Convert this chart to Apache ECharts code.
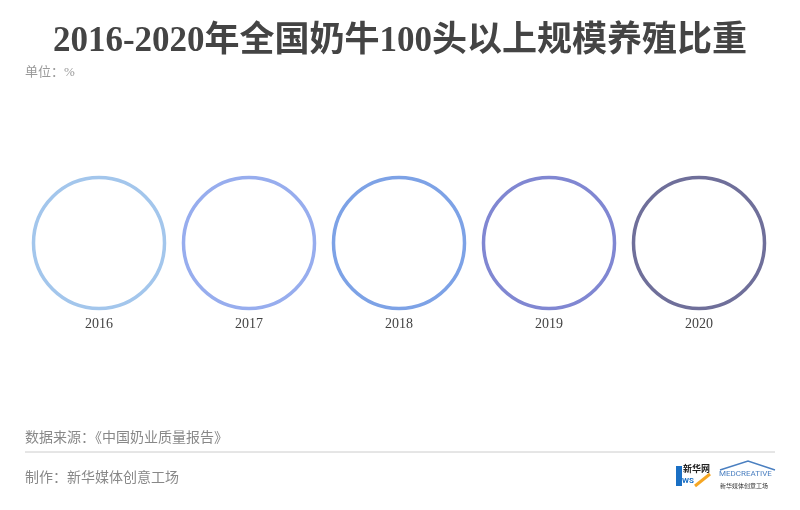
<!DOCTYPE html>
<html><head><meta charset="utf-8">
<script src="https://cdn.jsdelivr.net/npm/echarts@6/dist/echarts.min.js"></script>
<style>html,body{margin:0;padding:0;background:#fff}#c{width:800px;height:510px}</style>
</head><body><div id="c"></div>
<script>
const years = ['2016', '2017', '2018', '2019', '2020'];
const rowLabel = ['比重'];
const ringColors = ['#a3c6ec', '#97adee', '#7da2e6', '#8087d2', '#6f6f9a'];

const chart = echarts.init(document.getElementById('c'));
const serif = '"Liberation Serif", "DejaVu Serif", "Noto Sans CJK SC", serif';
chart.setOption({
  backgroundColor: '#ffffff',
  animation: false,
  title: {
    text: '2016-2020年全国奶牛100头以上规模养殖比重',
    left: 'center', top: 19,
    textStyle: { fontFamily: serif, fontSize: 35, fontWeight: 'bold', color: '#444444' }
  },
  grid: { left: 24, right: 26, top: 176, bottom: 200 },
  xAxis: {
    type: 'category', data: years,
    axisLine: { show: false }, axisTick: { show: false },
    axisLabel: { margin: 7, fontFamily: serif, fontSize: 14, color: '#444444' }
  },
  yAxis: {
    type: 'category', data: rowLabel, show: false
  },
  series: [{
    type: 'scatter',
    symbol: 'circle',
    symbolSize: 131,
    data: years.map((y, i) => ({
      value: [y, rowLabel[0]],
      itemStyle: { color: 'rgba(255,255,255,0)', borderColor: ringColors[i], borderWidth: 3.5, opacity: 1 }
    })),
    silent: true
  }],
  graphic: [
    { type: 'text', left: 25, top: 66, style: { text: '单位：%', fontFamily: serif, fontSize: 13, fill: '#999999' } },
    { type: 'text', left: 25, top: 431, style: { text: '数据来源：《中国奶业质量报告》', fontFamily: serif, fontSize: 14, fill: '#888888' } },
    { type: 'line', shape: { x1: 25, y1: 452, x2: 775, y2: 452 }, style: { stroke: '#cccccc', lineWidth: 1 } },
    { type: 'text', left: 25, top: 471, style: { text: '制作：新华媒体创意工场', fontFamily: serif, fontSize: 14, fill: '#888888' } },
    // logos (approximation)
    { type: 'rect', shape: { x: 676, y: 466, width: 6, height: 20 }, style: { fill: '#1a6fc4' } },
    { type: 'text', left: 683, top: 464, style: { text: '新华网', fontFamily: '"Noto Sans CJK SC"', fontSize: 9, fontWeight: 'bold', fill: '#222' } },
    { type: 'text', left: 682, top: 477, style: { text: 'WS', fontFamily: 'Roboto', fontSize: 8, fontWeight: 'bold', fill: '#1a6fc4' } },
    { type: 'line', shape: { x1: 695, y1: 486, x2: 710, y2: 474 }, style: { stroke: '#f5a623', lineWidth: 3 } },
    { type: 'polyline', shape: { points: [[720, 470], [748, 461], [775, 470]] }, style: { stroke: '#4a7fc0', lineWidth: 1.5, fill: 'none' } },
    { type: 'text', left: 719, top: 470, style: { text: 'MEDCREATIVE', fontFamily: 'Roboto', fontSize: 8, fill: '#4a7fc0' } },
    { type: 'text', left: 720, top: 483, style: { text: '新华媒体创意工场', fontFamily: '"Noto Sans CJK SC"', fontSize: 6, fill: '#333' } }
  ]
});
</script></body></html>
